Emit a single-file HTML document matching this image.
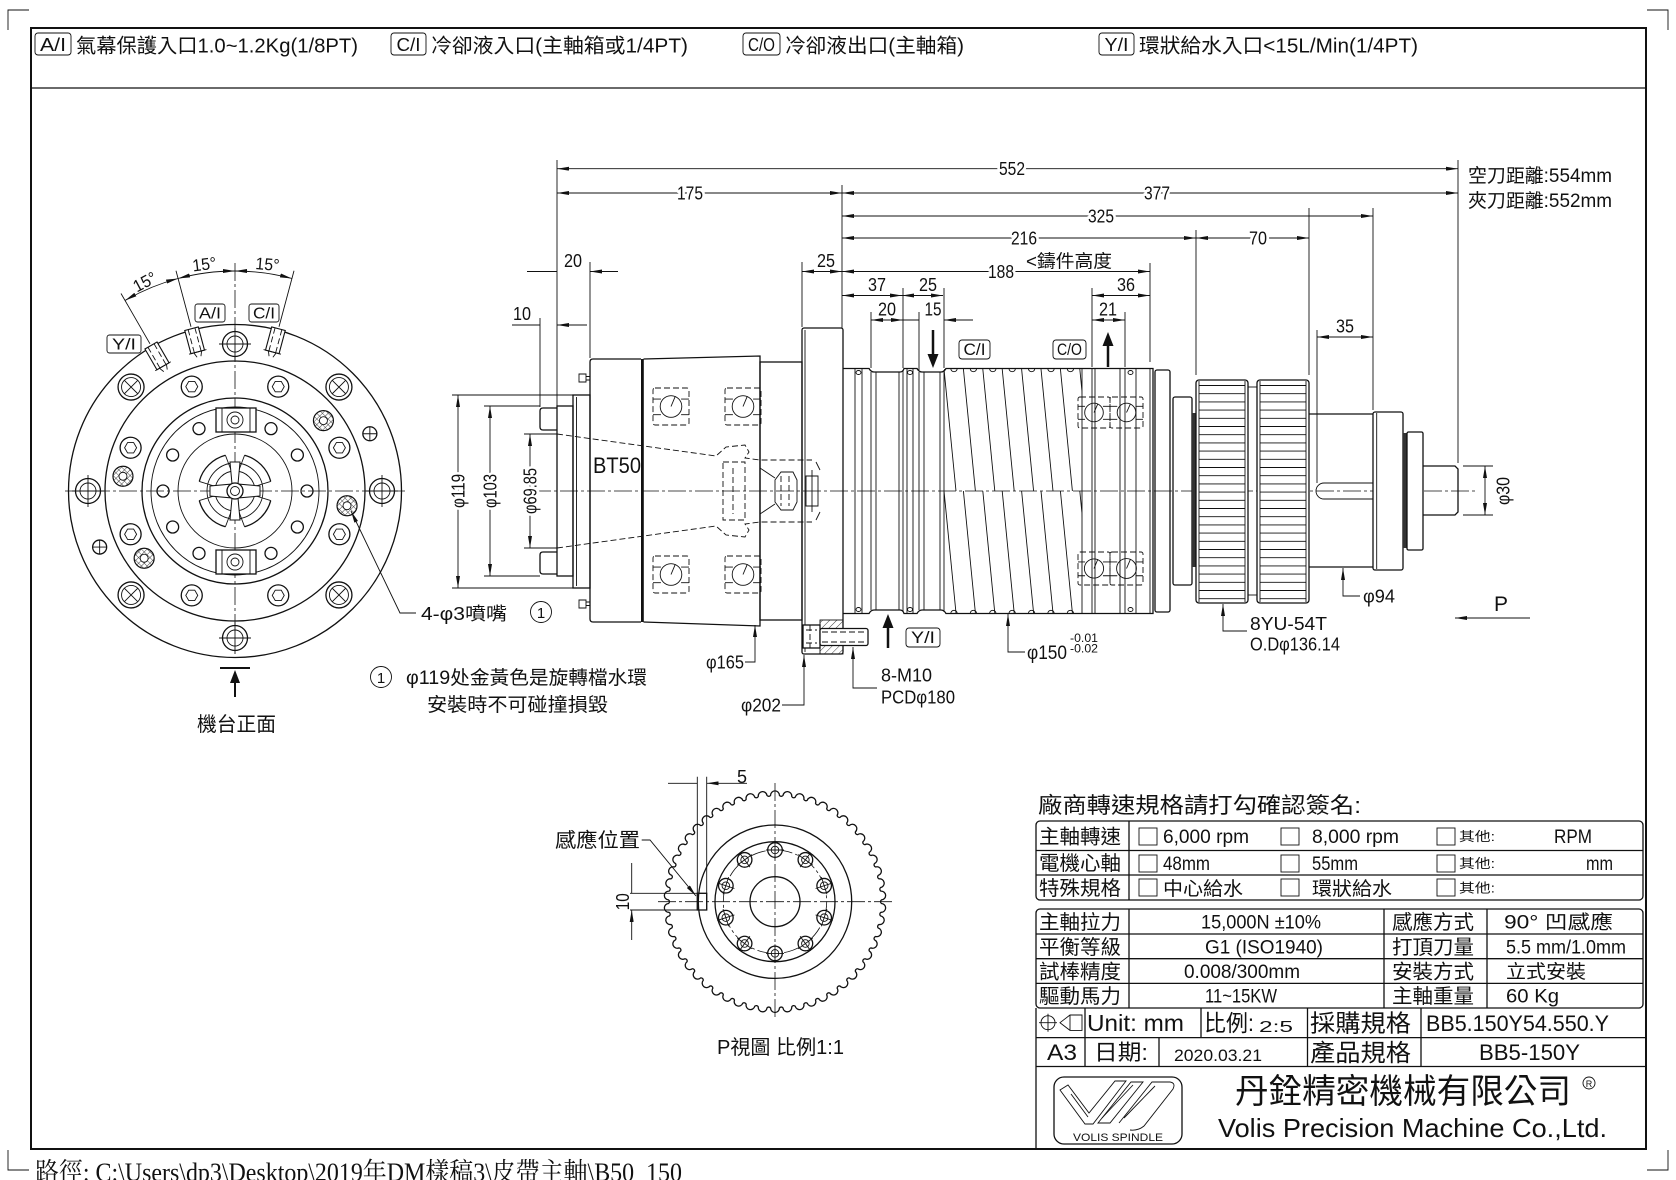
<!DOCTYPE html>
<html><head><meta charset="utf-8"><title>BB5-150Y</title>
<style>
html,body{margin:0;padding:0;background:#fff;width:1676px;height:1180px;overflow:hidden}
svg{display:block}
text{font-family:"Liberation Sans Narrow","Liberation Sans","Noto Sans CJK TC",sans-serif;fill:#111}
.s{font-family:"Liberation Serif","Noto Serif CJK SC",serif}
.l{stroke:#111;fill:none;stroke-width:1.3}
.lw{stroke:#111;fill:#fff;stroke-width:1.3}
.t{stroke:#111;fill:none;stroke-width:.9}
.d{stroke:#111;fill:none;stroke-width:.9;stroke-dasharray:6 3}
.c{stroke:#111;fill:none;stroke-width:.8;stroke-dasharray:18 3 3 3}
.dm{stroke:#111;fill:none;stroke-width:.9;marker-start:url(#ar);marker-end:url(#ar)}
.de{stroke:#111;fill:none;stroke-width:.9;marker-end:url(#ar)}
.bg{paint-order:stroke;stroke:#fff;stroke-width:6px;stroke-linejoin:round}
</style></head><body>
<svg id="s" width="1676" height="1180" viewBox="0 0 1676 1180" xmlns="http://www.w3.org/2000/svg">
<defs>
<marker id="ar" viewBox="0 0 12 4" refX="12" refY="2" markerWidth="12" markerHeight="4" markerUnits="userSpaceOnUse" orient="auto-start-reverse"><path d="M0,0 L12,2 L0,4 z" fill="#111"/></marker>
<pattern id="xh" width="4" height="4" patternUnits="userSpaceOnUse" patternTransform="rotate(45)"><path d="M0,0H4M0,0V4" stroke="#111" stroke-width="0.8"/></pattern>
<pattern id="hl" width="5" height="5" patternUnits="userSpaceOnUse" patternTransform="rotate(45)"><path d="M0,0V5" stroke="#111" stroke-width="0.8"/></pattern>
<clipPath id="hc"><rect x="944" y="369" width="138" height="244"/></clipPath>
</defs>
<rect width="1676" height="1180" fill="#fff"/>

<!-- frame -->
<rect x="31" y="28" width="1615" height="1121" fill="none" stroke="#111" stroke-width="2"/>
<path d="M31,88H1646" class="l"/>
<path d="M8,30V10H29M1647,10H1668V30M1647,1170H1668V1150M8,1150V1170H29" class="t"/>

<!-- header -->
<rect x="35" y="33" width="36" height="22" rx="3" class="t"/>
<text x="53" y="51" font-size="18" text-anchor="middle" textLength="26" lengthAdjust="spacingAndGlyphs">A/I</text>
<text x="76" y="52.4" font-size="20" textLength="282" lengthAdjust="spacingAndGlyphs">氣幕保護入口1.0~1.2Kg(1/8PT)</text>
<rect x="391" y="33" width="35" height="22" rx="3" class="t"/>
<text x="408.5" y="51" font-size="18" text-anchor="middle" textLength="24" lengthAdjust="spacingAndGlyphs">C/I</text>
<text x="431" y="52.4" font-size="20" textLength="257" lengthAdjust="spacingAndGlyphs">冷卻液入口(主軸箱或1/4PT)</text>
<rect x="743" y="33" width="37" height="22" rx="3" class="t"/>
<text x="761.5" y="51" font-size="18" text-anchor="middle" textLength="27" lengthAdjust="spacingAndGlyphs">C/O</text>
<text x="785" y="52.4" font-size="20" textLength="179" lengthAdjust="spacingAndGlyphs">冷卻液出口(主軸箱)</text>
<rect x="1099" y="33" width="35" height="22" rx="3" class="t"/>
<text x="1116.5" y="51" font-size="18" text-anchor="middle" textLength="24" lengthAdjust="spacingAndGlyphs">Y/I</text>
<text x="1139" y="52.4" font-size="20" textLength="279" lengthAdjust="spacingAndGlyphs">環狀給水入口&lt;15L/Min(1/4PT)</text>

<!-- ============ circle (front) view ============ -->
<g>
<circle cx="235" cy="491" r="166.5" class="l"/>
<circle cx="235" cy="491" r="130" class="l"/>
<circle cx="235" cy="491" r="93" class="l"/>
<circle cx="235" cy="491" r="84" class="t"/>
<circle cx="235" cy="491" r="57" class="t"/>
<path d="M65,491H405M235,263V650" class="c"/>
<!-- key blocks -->
<rect x="216" y="408" width="40" height="24" class="lw"/>
<path d="M222,408V432M250,408V432" class="t"/>
<circle cx="235" cy="420" r="8" class="t"/><circle cx="235" cy="420" r="4" class="t"/>
<rect x="216" y="550" width="40" height="24" class="lw"/>
<path d="M222,550V574M250,550V574" class="t"/>
<circle cx="235" cy="562" r="8" class="t"/><circle cx="235" cy="562" r="4" class="t"/>
<!-- center drawbar -->
<circle cx="235" cy="491" r="28" class="t"/>
<circle cx="235" cy="491" r="20" class="t"/>
<path d="M244.58,455.26A37,37 0 0 1 270.74,481.42M270.74,500.58A37,37 0 0 1 244.58,526.74M225.42,526.74A37,37 0 0 1 199.26,500.58M199.26,481.42A37,37 0 0 1 225.42,455.26" class="l"/>
<path d="M244.58,455.26L239,470M270.74,481.42L256,486M270.74,500.58L256,496M244.58,526.74L239,512M225.42,526.74L231,512M199.26,500.58L214,496M199.26,481.42L214,486M225.42,455.26L231,470" class="t"/>
<path d="M230,462H240L238,484L260,486V496L238,498L240,520H230L232,498L210,496V486L232,484Z" fill="#fff" stroke="#111" stroke-width="1"/>
<circle cx="235" cy="491" r="8" class="lw"/><circle cx="235" cy="491" r="4.5" class="t"/>
<!-- ports & angle dims -->
<path d="M150,343.8L121,293.5M191,326.8L176,270.8M279,326.8L294,270.8" class="t"/>
<path d="M125,300.5A220,220 0 0 1 178.06,278.5" class="dm"/>
<path d="M178.06,278.5A220,220 0 0 1 235,271" class="dm"/>
<path d="M235,271A220,220 0 0 1 291.94,278.5" class="dm"/>
<text font-size="17" text-anchor="middle" transform="translate(147.5,287) rotate(-28)" textLength="24" lengthAdjust="spacingAndGlyphs">15°</text>
<text font-size="17" text-anchor="middle" transform="translate(205,270) rotate(-7)" textLength="24" lengthAdjust="spacingAndGlyphs">15°</text>
<text font-size="17" text-anchor="middle" transform="translate(267,270) rotate(5)" textLength="24" lengthAdjust="spacingAndGlyphs">15°</text>
<rect x="107" y="335" width="34" height="18" rx="2.5" class="t"/>
<text x="124" y="349.5" font-size="16" text-anchor="middle" textLength="24" lengthAdjust="spacingAndGlyphs">Y/I</text>
<rect x="195" y="304" width="30" height="18" rx="2.5" class="t"/>
<text x="210" y="318.5" font-size="16" text-anchor="middle" textLength="22" lengthAdjust="spacingAndGlyphs">A/I</text>
<rect x="249" y="304" width="30" height="18" rx="2.5" class="t"/>
<text x="264" y="318.5" font-size="16" text-anchor="middle" textLength="22" lengthAdjust="spacingAndGlyphs">C/I</text>
<!-- front arrow -->
<path d="M220,668H250" stroke="#111" stroke-width="2"/>
<path d="M235,697V680" stroke="#111" stroke-width="2"/>
<path d="M230,683L240,683L235,670Z" fill="#111"/>
<text x="197" y="731" font-size="20" textLength="79" lengthAdjust="spacingAndGlyphs">機台正面</text>
<!-- nozzle leader -->
<path d="M416,613H400L351,511" class="de"/>
<text x="421" y="620" font-size="18" textLength="86" lengthAdjust="spacingAndGlyphs">4-φ3噴嘴</text>
<circle cx="541" cy="612" r="10.5" class="t"/>
<text x="541" y="618" font-size="15" text-anchor="middle">1</text>
<!-- note -->
<circle cx="381" cy="677" r="10.5" class="t"/>
<text x="381" y="683" font-size="15" text-anchor="middle">1</text>
<text x="406" y="684" font-size="19" textLength="241" lengthAdjust="spacingAndGlyphs">φ119处金黃色是旋轉檔水環</text>
<text x="427" y="711" font-size="19" textLength="181" lengthAdjust="spacingAndGlyphs">安裝時不可碰撞損毀</text>
</g>
<g id="cvd"></g>

<!-- ============ main spindle side view ============ -->
<g>
<path d="M533,491H1475" class="c"/>
<!-- nose -->
<path d="M557,408H543Q540,408 540,411V427Q540,430 543,430H557M557,552H543Q540,552 540,555V571Q540,574 543,574H557" class="l"/>
<rect x="557" y="406" width="16" height="170" class="l"/>
<rect x="573" y="395" width="17" height="193" class="l"/>
<path d="M576.5,397V586" class="t"/>
<path d="M579,374H586V382H579ZM586,376.5H590V380H586ZM579,600H586V608H579ZM586,602H590V605.5H586Z" class="t"/>
<!-- housing -->
<path d="M641,359H593Q590,359 590,362V619Q590,622 593,622H641" class="l"/>
<path d="M643.5,359L760,356V626L643.5,622" class="l"/>
<rect x="641" y="359" width="2.8" height="263" fill="#111"/>
<rect x="760" y="362" width="42" height="258" class="l"/>
<text x="593" y="473" font-size="22" textLength="48" lengthAdjust="spacingAndGlyphs">BT50</text>
<!-- drawbar dashed -->
<path d="M557,434L716,456L726,447L745,445L749,452L745,458L760,460H812M557,548L716,526L726,535L745,537L749,530L745,524L760,522H812" class="d"/>
<path d="M723,462H745V520H723ZM733,468V514" class="d"/>
<path d="M760,468L775,478M760,514L775,504" class="t"/>
<path d="M775,480L781,472H793L797,480V502L793,510H781L775,502Z" class="t"/>
<path d="M781,476V506M789,476V506" class="d"/>
<path d="M806,476H818V506H806ZM812,470V512" class="t"/>
<path d="M816,462L820,470M816,520L820,512" class="t"/>
<!-- flange -->
<rect x="802" y="328" width="41" height="326" rx="2" class="l"/>
<path d="M805,330V652" class="t"/>
<rect x="820" y="620" width="23" height="34" fill="url(#hl)" stroke="#111" stroke-width="0.9"/>
<rect x="803" y="625" width="17" height="23" class="lw"/>
<path d="M806,630H817M806,643H817M810,625V648" class="d"/>
<rect x="820" y="628.5" width="48" height="17" rx="2" class="lw"/>
<path d="M822,632H866M822,642H866" class="d"/>
<!-- body -->
<path d="M843,368.5H869Q871,372 874,372H900Q903,372 904,368.5H917Q919,372 922,372H941Q944,372 946,368.5H1153V613.5H946Q944,610 941,610H922Q919,610 917,613.5H904Q903,610 900,610H874Q871,610 869,613.5H843" class="l"/>
<path d="M855,369V613M862,369V613M871,372V610M876,372V610M899,372V610M903,370V612M907,369V613M913,369V613M919,372V610M924,372V610M940,372V610M944,370V612M1082,369V613M1092,369V613M1095,369V613M1120,369V613M1125,369V613M1136,369V613M1150,369V613" class="t"/>
<ellipse cx="858.5" cy="372.5" rx="2.5" ry="2" class="t"/><ellipse cx="858.5" cy="609.5" rx="2.5" ry="2" class="t"/>
<ellipse cx="910" cy="372.5" rx="2.5" ry="2" class="t"/><ellipse cx="910" cy="609.5" rx="2.5" ry="2" class="t"/>
<ellipse cx="1130.5" cy="372.5" rx="2.5" ry="2" class="t"/><ellipse cx="1130.5" cy="609.5" rx="2.5" ry="2" class="t"/>
<rect x="1155" y="370" width="15" height="242" rx="2" class="l"/>
<rect x="1173" y="397" width="19" height="188" rx="2" class="l"/>
<rect x="1192" y="413" width="4" height="154" fill="#333"/>
<!-- pulleys -->
<rect x="1248" y="387" width="9" height="208" class="t"/>
<rect x="1196" y="380" width="52" height="223" rx="3" class="lw"/>
<rect x="1257" y="380" width="52" height="223" rx="3" class="lw"/>
<path d="M1199,381V602M1245,381V602M1260,381V602M1306,381V602" class="t"/>
<!-- shaft end -->
<path d="M1309,414H1373M1309,567H1373" class="l"/>
<path d="M1373,483H1324A8,8 0 0 0 1324,499H1373" class="t"/>
<rect x="1373" y="412" width="30" height="158" rx="2" class="lw"/>
<path d="M1376.7,413V569" class="t"/>
<rect x="1403" y="433" width="4" height="115" fill="#333"/>
<rect x="1407" y="432" width="16" height="118" rx="1.5" class="lw"/>
<path d="M1423,466H1455L1458,469V512L1455,515H1423" class="l"/>
</g>
<g id="msd"></g>

<!-- flow arrows & labels -->
<path d="M933,330V356" stroke="#111" stroke-width="2.5"/><path d="M927.5,354H938.5L933,368Z" fill="#111"/>
<rect x="959" y="340" width="31" height="19" rx="3" class="t"/>
<text x="974.5" y="355" font-size="17" text-anchor="middle" textLength="22" lengthAdjust="spacingAndGlyphs">C/I</text>
<path d="M1108,367V344" stroke="#111" stroke-width="2.5"/><path d="M1102.5,346H1113.5L1108,332Z" fill="#111"/>
<rect x="1053" y="340" width="33" height="19" rx="3" class="t"/>
<text x="1069.5" y="355" font-size="17" text-anchor="middle" textLength="25" lengthAdjust="spacingAndGlyphs">C/O</text>
<path d="M888,648V626" stroke="#111" stroke-width="2.5"/><path d="M882.5,628H893.5L888,614Z" fill="#111"/>
<rect x="906" y="628" width="34" height="19" rx="3" class="t"/>
<text x="923" y="643" font-size="17" text-anchor="middle" textLength="24" lengthAdjust="spacingAndGlyphs">Y/I</text>

<!-- extension lines -->
<path d="M557,160V406M540,318V407M590,262V358M802,262V327M842,185V328M871,312V368M903,288V368M919,312V370M944,288V368M1092,288V367M1125,312V367M1150,263V362M1196,230V375M1309,208V375M1317,330V483M1373,208V410M1458,160V463" class="t"/>
<path d="M452,395H573M452,588H573M484,406H540M484,576H540M524,434H557M524,548H557M1463,466H1493M1463,515H1493" class="t"/>

<!-- dimension lines -->
<path d="M557,168.7H1458" class="dm"/>
<path d="M557,193H842" class="dm"/>
<path d="M842,193H1458" class="dm"/>
<path d="M842,216H1373" class="dm"/>
<path d="M842,238H1196" class="dm"/>
<path d="M1196,238H1309" class="dm"/>
<path d="M842,271.5H1150" class="dm"/>
<path d="M802,271.5H842" class="dm"/>
<path d="M842,295.5H902" class="dm"/>
<path d="M902,295.5H943" class="dm"/>
<path d="M1092,295.5H1150" class="dm"/>
<path d="M871,320H903" class="dm"/>
<path d="M1092,320H1125" class="dm"/>
<path d="M1317,337H1373" class="dm"/>
<path d="M527,271.5H557M618,271.5H590" class="de"/>
<path d="M512,325H540M587,325H557" class="de"/>
<path d="M903,320H919M973,320H944" class="de"/>
<path d="M458,395V588" class="dm"/>
<path d="M490,406V576" class="dm"/>
<path d="M530,434V548" class="dm"/>
<path d="M1485,466V515" class="dm"/>

<!-- dimension texts -->
<g font-size="18" text-anchor="middle">
<text class="bg" x="1012" y="175.2" textLength="26" lengthAdjust="spacingAndGlyphs">552</text>
<text class="bg" x="690" y="199.5" textLength="26" lengthAdjust="spacingAndGlyphs">175</text>
<text class="bg" x="1157" y="199.5" textLength="26" lengthAdjust="spacingAndGlyphs">377</text>
<text class="bg" x="1101" y="222.5" textLength="26" lengthAdjust="spacingAndGlyphs">325</text>
<text class="bg" x="1024" y="244.5" textLength="26" lengthAdjust="spacingAndGlyphs">216</text>
<text class="bg" x="1258" y="244.5" textLength="18" lengthAdjust="spacingAndGlyphs">70</text>
<text class="bg" x="1001" y="278" textLength="26" lengthAdjust="spacingAndGlyphs">188</text>
<text x="826" y="267" textLength="18" lengthAdjust="spacingAndGlyphs">25</text>
<text x="573" y="267" textLength="18" lengthAdjust="spacingAndGlyphs">20</text>
<text x="522" y="320" textLength="18" lengthAdjust="spacingAndGlyphs">10</text>
<text x="877" y="291" textLength="18" lengthAdjust="spacingAndGlyphs">37</text>
<text x="928" y="291" textLength="18" lengthAdjust="spacingAndGlyphs">25</text>
<text x="1126" y="291" textLength="18" lengthAdjust="spacingAndGlyphs">36</text>
<text x="887" y="315.5" textLength="18" lengthAdjust="spacingAndGlyphs">20</text>
<text x="933" y="315.5" textLength="17" lengthAdjust="spacingAndGlyphs">15</text>
<text x="1108" y="315.5" textLength="18" lengthAdjust="spacingAndGlyphs">21</text>
<text x="1345" y="332.5" textLength="18" lengthAdjust="spacingAndGlyphs">35</text>
<text class="bg" transform="translate(464.5,491) rotate(-90)" textLength="34" lengthAdjust="spacingAndGlyphs">φ119</text>
<text class="bg" transform="translate(496.5,491) rotate(-90)" textLength="34" lengthAdjust="spacingAndGlyphs">φ103</text>
<text class="bg" transform="translate(536.5,491) rotate(-90)" textLength="46" lengthAdjust="spacingAndGlyphs">φ69.85</text>
<text transform="translate(1509.5,491) rotate(-90)" textLength="28" lengthAdjust="spacingAndGlyphs">φ30</text>
</g>
<text x="1026" y="267.5" font-size="18" textLength="86" lengthAdjust="spacingAndGlyphs">&lt;鑄件高度</text>
<text x="1468" y="182" font-size="19" textLength="144" lengthAdjust="spacingAndGlyphs">空刀距離:554mm</text>
<text x="1468" y="207" font-size="19" textLength="144" lengthAdjust="spacingAndGlyphs">夾刀距離:552mm</text>

<!-- leaders -->
<path d="M745,662H755V625" class="de"/>
<text x="744" y="668.5" font-size="18" text-anchor="end" textLength="38" lengthAdjust="spacingAndGlyphs">φ165</text>
<path d="M782,705H804V655" class="de"/>
<text x="781" y="711.5" font-size="18" text-anchor="end" textLength="40" lengthAdjust="spacingAndGlyphs">φ202</text>
<path d="M877,688H853V647" class="de"/>
<text x="881" y="681.5" font-size="18" textLength="51" lengthAdjust="spacingAndGlyphs">8-M10</text>
<text x="881" y="703.5" font-size="18" textLength="74" lengthAdjust="spacingAndGlyphs">PCDφ180</text>
<path d="M1025,652H1008V614" class="de"/>
<text x="1027" y="659" font-size="19" textLength="40" lengthAdjust="spacingAndGlyphs">φ150</text>
<text x="1070" y="642" font-size="12" textLength="28" lengthAdjust="spacingAndGlyphs">-0.01</text>
<text x="1070" y="652.5" font-size="12" textLength="28" lengthAdjust="spacingAndGlyphs">-0.02</text>
<path d="M1360,596H1343V568" class="de"/>
<text x="1363" y="602.5" font-size="18" textLength="32" lengthAdjust="spacingAndGlyphs">φ94</text>
<path d="M1247,631H1223V604" class="de"/>
<text x="1250" y="630" font-size="18" textLength="77" lengthAdjust="spacingAndGlyphs">8YU-54T</text>
<text x="1250" y="650.5" font-size="18" textLength="90" lengthAdjust="spacingAndGlyphs">O.Dφ136.14</text>
<path d="M1530,618H1455" class="de"/>
<text x="1501" y="611" font-size="21" text-anchor="middle">P</text>

<!-- ============ P view ============ -->
<g>
<path id="gear" d="" class="l"/>
<circle cx="775" cy="901.7" r="76.7" class="l"/>
<circle cx="775" cy="901.7" r="60" class="l"/>
<circle cx="775" cy="901.7" r="51.7" class="c"/>
<circle cx="775" cy="901.7" r="25" class="l"/>
<path d="M658,901.7H892M775,783V1020" class="c"/>
<path d="M697.3,776.7V910M706.7,776.7V910M630,893.3H706.7M630,910H706.7" class="t"/>
<rect x="697.3" y="893.3" width="9.4" height="16.7" class="l"/>
<path d="M668,783.3H697.3M747,783.3H706.7" class="de"/>
<path d="M631.7,863V893.3M631.7,940V910" class="de"/>
<text x="742" y="783" font-size="18" text-anchor="middle">5</text>
<text font-size="18" text-anchor="middle" transform="translate(629,901.7) rotate(-90)" textLength="17" lengthAdjust="spacingAndGlyphs">10</text>
<text x="555" y="847" font-size="20" textLength="85" lengthAdjust="spacingAndGlyphs">感應位置</text>
<path d="M641.7,840H650L696,896" class="de"/>
<text x="717" y="1054" font-size="20" textLength="127" lengthAdjust="spacingAndGlyphs">P視圖 比例1:1</text>
</g>
<g id="pvd"></g>

<!-- ============ title block ============ -->
<text x="1038" y="813" font-size="22" textLength="323" lengthAdjust="spacingAndGlyphs">廠商轉速規格請打勾確認簽名:</text>
<rect x="1036" y="821" width="607" height="79" rx="4" class="l"/>
<path d="M1036,850.5H1643M1036,875H1643M1129,821V900" class="l"/>
<g font-size="20">
<text x="1039" y="843.5" textLength="82" lengthAdjust="spacingAndGlyphs">主軸轉速</text>
<text x="1039" y="870" textLength="82" lengthAdjust="spacingAndGlyphs">電機心軸</text>
<text x="1039" y="895" textLength="82" lengthAdjust="spacingAndGlyphs">特殊規格</text>
</g>
<g class="t">
<rect x="1139" y="828" width="18" height="17"/><rect x="1281" y="828" width="18" height="17"/><rect x="1437" y="828" width="18" height="17"/>
<rect x="1139" y="855" width="18" height="17"/><rect x="1281" y="855" width="18" height="17"/><rect x="1437" y="855" width="18" height="17"/>
<rect x="1139" y="879" width="18" height="17"/><rect x="1281" y="879" width="18" height="17"/><rect x="1437" y="879" width="18" height="17"/>
</g>
<g font-size="19">
<text x="1163" y="843" textLength="86" lengthAdjust="spacingAndGlyphs">6,000 rpm</text>
<text x="1312" y="843" textLength="87" lengthAdjust="spacingAndGlyphs">8,000 rpm</text>
<text x="1554" y="843" textLength="38" lengthAdjust="spacingAndGlyphs">RPM</text>
<text x="1163" y="870" textLength="47" lengthAdjust="spacingAndGlyphs">48mm</text>
<text x="1312" y="870" textLength="46" lengthAdjust="spacingAndGlyphs">55mm</text>
<text x="1586" y="870" textLength="27" lengthAdjust="spacingAndGlyphs">mm</text>
<text x="1163" y="895" textLength="80" lengthAdjust="spacingAndGlyphs">中心給水</text>
<text x="1312" y="895" textLength="80" lengthAdjust="spacingAndGlyphs">環狀給水</text>
</g>
<g font-size="13">
<text x="1459" y="841" textLength="36" lengthAdjust="spacingAndGlyphs">其他:</text>
<text x="1459" y="868" textLength="36" lengthAdjust="spacingAndGlyphs">其他:</text>
<text x="1459" y="892.5" textLength="36" lengthAdjust="spacingAndGlyphs">其他:</text>
</g>

<rect x="1036" y="909" width="607" height="99" rx="4" class="l"/>
<path d="M1036,934H1643M1036,958.7H1643M1036,983.4H1643M1129,909V1008M1384,909V1008M1487,909V1008" class="l"/>
<g font-size="20">
<text x="1039" y="929" textLength="82" lengthAdjust="spacingAndGlyphs">主軸拉力</text>
<text x="1039" y="953.8" textLength="82" lengthAdjust="spacingAndGlyphs">平衡等級</text>
<text x="1039" y="978.5" textLength="82" lengthAdjust="spacingAndGlyphs">試棒精度</text>
<text x="1039" y="1003" textLength="82" lengthAdjust="spacingAndGlyphs">驅動馬力</text>
<text x="1392" y="929" textLength="82" lengthAdjust="spacingAndGlyphs">感應方式</text>
<text x="1392" y="953.8" textLength="82" lengthAdjust="spacingAndGlyphs">打頂刀量</text>
<text x="1392" y="978.5" textLength="82" lengthAdjust="spacingAndGlyphs">安裝方式</text>
<text x="1392" y="1003" textLength="82" lengthAdjust="spacingAndGlyphs">主軸重量</text>
</g>
<g font-size="19">
<text x="1201" y="928.5" textLength="120" lengthAdjust="spacingAndGlyphs">15,000N ±10%</text>
<text x="1205" y="953.3" textLength="118" lengthAdjust="spacingAndGlyphs">G1  (ISO1940)</text>
<text x="1184" y="978" textLength="116" lengthAdjust="spacingAndGlyphs">0.008/300mm</text>
<text x="1205" y="1002.5" textLength="72" lengthAdjust="spacingAndGlyphs">11~15KW</text>
<text x="1504" y="928.5" textLength="109" lengthAdjust="spacingAndGlyphs">90°  凹感應</text>
<text x="1506" y="953.3" textLength="120" lengthAdjust="spacingAndGlyphs">5.5 mm/1.0mm</text>
<text x="1506" y="978" textLength="80" lengthAdjust="spacingAndGlyphs">立式安裝</text>
<text x="1506" y="1002.5" textLength="53" lengthAdjust="spacingAndGlyphs">60 Kg</text>
</g>

<path d="M1036,1008V1149M1036,1037.6H1646M1036,1066.5H1646M1085,1008V1066.5M1201,1008V1037.6M1159,1037.6V1066.5M1307.5,1008V1066.5M1421,1008V1066.5" class="l"/>
<circle cx="1048" cy="1022.7" r="7" class="t"/>
<path d="M1039,1022.7H1057M1048,1013.7V1031.7" class="t"/>
<path d="M1060,1022.7L1070,1015H1082V1030.4H1070Z M1070,1015V1030.4" class="t"/>
<text x="1087" y="1031" font-size="23" textLength="97" lengthAdjust="spacingAndGlyphs">Unit:  mm</text>
<text x="1204" y="1031" font-size="23" textLength="50" lengthAdjust="spacingAndGlyphs">比例:</text>
<text x="1259" y="1032" font-size="16" textLength="34" lengthAdjust="spacingAndGlyphs">2:5</text>
<text x="1310" y="1031.5" font-size="24" textLength="101" lengthAdjust="spacingAndGlyphs">採購規格</text>
<text x="1426" y="1031" font-size="22" textLength="183" lengthAdjust="spacingAndGlyphs">BB5.150Y54.550.Y</text>
<text x="1047" y="1060" font-size="22" textLength="30" lengthAdjust="spacingAndGlyphs">A3</text>
<text x="1094" y="1060" font-size="22" textLength="54" lengthAdjust="spacingAndGlyphs">日期:</text>
<text x="1174" y="1061" font-size="17" textLength="88" lengthAdjust="spacingAndGlyphs">2020.03.21</text>
<text x="1310" y="1061" font-size="24" textLength="101" lengthAdjust="spacingAndGlyphs">產品規格</text>
<text x="1479" y="1060" font-size="22" textLength="101" lengthAdjust="spacingAndGlyphs">BB5-150Y</text>

<!-- logo -->
<rect x="1054" y="1077" width="128" height="67" rx="10" class="l"/>
<path d="M1060,1090L1068,1085L1089,1113L1115,1081H1126L1093,1124H1085Z" class="t"/>
<path d="M1098,1123L1131,1082H1143L1110,1123Z" class="t"/>
<path d="M1119,1123L1152,1082H1170Q1176,1083 1173,1089L1144,1126Q1138,1131 1130,1130" class="t"/>
<path d="M1071,1094L1088,1117M1102,1118L1133,1085M1124,1118L1155,1086" class="t"/>
<text x="1073" y="1141" font-size="11" textLength="90" lengthAdjust="spacingAndGlyphs">VOLIS SPINDLE</text>
<text x="1235" y="1103" font-size="34" textLength="336" lengthAdjust="spacingAndGlyphs">丹銓精密機械有限公司</text>
<circle cx="1589" cy="1083" r="6" class="t"/>
<text x="1589" y="1087" font-size="9" text-anchor="middle">R</text>
<text x="1218" y="1137" font-size="26" textLength="389" lengthAdjust="spacingAndGlyphs">Volis Precision Machine Co.,Ltd.</text>

<!-- path text (cut by page edge) -->
<text class="s" x="35" y="1181" font-size="26" textLength="647" lengthAdjust="spacingAndGlyphs">路徑: C:\Users\dp3\Desktop\2019年DM樣稿3\皮帶主軸\B50_150</text>
</svg>
<script>
(function(){
const NS='http://www.w3.org/2000/svg';
function el(p,t,a){const e=document.createElementNS(NS,t);for(const k in a)e.setAttribute(k,a[k]);p.appendChild(e);return e;}
/* circle view */
const G=document.getElementById('cvd');
const cx=235,cy=491;
const pol=(r,d)=>{const a=d*Math.PI/180;return [cx+r*Math.sin(a),cy-r*Math.cos(a)];};
[0,90,180,270].forEach(a=>{const [x,y]=pol(147,a);el(G,'circle',{cx:x,cy:y,r:12.5,class:'lw'});el(G,'circle',{cx:x,cy:y,r:8,class:'t'});el(G,'path',{d:`M${x-16},${y}H${x+16}M${x},${y-16}V${y+16}`,class:'t'});});
[45,135,225,315].forEach(a=>{const [x,y]=pol(147,a);el(G,'circle',{cx:x,cy:y,r:13,class:'lw'});el(G,'circle',{cx:x,cy:y,r:9.5,class:'t'});const k=6.7;el(G,'path',{d:`M${x-k},${y-k}L${x+k},${y+k}M${x-k},${y+k}L${x+k},${y-k}`,class:'t'});});
[22.5,67.5,112.5,157.5,202.5,247.5,292.5,337.5].forEach(a=>{const [x,y]=pol(113,a);el(G,'circle',{cx:x,cy:y,r:10.5,class:'lw'});let d='';for(let i=0;i<6;i++){const t=i*Math.PI/3;d+=(i?'L':'M')+(x+6*Math.cos(t))+','+(y+6*Math.sin(t));}el(G,'path',{d:d+'Z',class:'t'});});
[51.5,97.5,233.5,277.5].forEach(a=>{const [x,y]=pol(113,a);el(G,'circle',{cx:x,cy:y,r:10,fill:'url(#xh)',stroke:'#111','stroke-width':1.2});el(G,'circle',{cx:x,cy:y,r:4,fill:'#fff',stroke:'#111','stroke-width':.9});});
[67,247.5].forEach(a=>{const [x,y]=pol(146.5,a);el(G,'circle',{cx:x,cy:y,r:7,class:'lw'});el(G,'path',{d:`M${x-7},${y}H${x+7}M${x},${y-7}V${y+7}`,class:'t'});});
[30,60,90,120,150,210,240,270,300,330].forEach(a=>{const [x,y]=pol(72,a);el(G,'circle',{cx:x,cy:y,r:6,class:'l'});});
[-30,-15,15].forEach(a=>{const g=el(G,'g',{transform:`rotate(${a} ${cx} ${cy})`});
 el(g,'rect',{x:cx-7,y:cy-168,width:14,height:24,fill:'#fff',stroke:'#111','stroke-width':1.1});
 el(g,'path',{d:`M${cx-3.5},${cy-144}V${cy-168}M${cx+3.5},${cy-144}V${cy-168}`,class:'d'});
 el(g,'path',{d:`M${cx-9},${cy-144}H${cx+9}M${cx-4},${cy-144}L${cx-2},${cy-139}M${cx+4},${cy-144}L${cx+2},${cy-139}`,class:'t'});
});
/* main spindle details */
const M=document.getElementById('msd');
const hg=el(M,'g',{'clip-path':'url(#hc)'});
for(let k=-1;k<9;k++){const x=944+19.4*k;el(hg,'path',{d:`M${x},369L${x+12},491M${x},491L${x+12},613`,class:'t'});}
for(let k=0;k<7;k++){const x=954+19.4*k;el(M,'path',{d:`M${x-3.2},368.5A3.2,3.2 0 0 0 ${x+3.2},368.5M${x-3.2},613.5A3.2,3.2 0 0 1 ${x+3.2},613.5`,class:'t'});}
for(let y=385.5;y<600;y+=8.2){el(M,'path',{d:`M1199,${y.toFixed(1)}H1245M1260,${y.toFixed(1)}H1306`,class:'t'});}
function brg(x,y,w,h){el(M,'rect',{x:x,y:y,width:w,height:h,rx:2,class:'d'});
 el(M,'path',{d:`M${x},${y+h*0.3}H${x+w*0.22}M${x+w*0.78},${y+h*0.3}H${x+w}M${x},${y+h*0.72}H${x+w*0.22}M${x+w*0.78},${y+h*0.72}H${x+w}`,class:'t'});
 el(M,'circle',{cx:x+w/2,cy:y+h/2,r:Math.min(w,h)*0.3,class:'t'});
 el(M,'path',{d:`M${x+w/2},${y+h/2}L${x+w*0.62},${y+h*0.22}`,class:'t'});}
brg(653,388,36,37);brg(725,388,36,37);brg(653,556,36,37);brg(725,556,36,37);
brg(1078,397,32,31);brg(1110,397,33,31);brg(1078,552,32,33);brg(1110,552,33,33);
/* gear */
const gx=775,gy=901.7,R=106.5,N=54,dl=2.37*Math.PI/180;
const p=t=>[gx+R*Math.sin(t),gy-R*Math.cos(t)];
let d='';
for(let i=0;i<N;i++){const a=i*2*Math.PI/N;const s=p(a-dl),e=p(a+dl),n=p(a+2*Math.PI/N-dl);
 if(i===0)d+=`M${s[0].toFixed(2)},${s[1].toFixed(2)}`;
 d+=`A4.4,4.4 0 0 1 ${e[0].toFixed(2)},${e[1].toFixed(2)}A2.2,2.2 0 0 0 ${n[0].toFixed(2)},${n[1].toFixed(2)}`;}
document.getElementById('gear').setAttribute('d',d+'Z');
const PV=document.getElementById('pvd');
for(let k=0;k<10;k++){const a=k*36*Math.PI/180;const x=gx+51.7*Math.sin(a),y=gy-51.7*Math.cos(a);
 el(PV,'circle',{cx:x,cy:y,r:7.3,class:'lw'});el(PV,'circle',{cx:x,cy:y,r:3.8,class:'t'});
 el(PV,'path',{d:`M${x-9*Math.sin(a)},${y+9*Math.cos(a)}L${x+9*Math.sin(a)},${y-9*Math.cos(a)}M${x-9*Math.cos(a)},${y-9*Math.sin(a)}L${x+9*Math.cos(a)},${y+9*Math.sin(a)}`,class:'t'});}
})();
</script>
</body></html>
